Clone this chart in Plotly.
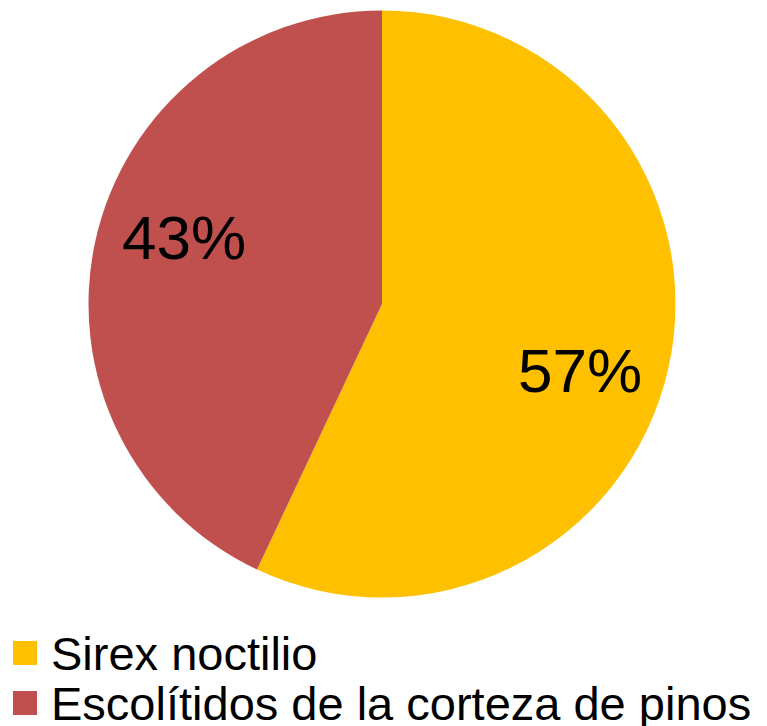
import math
import plotly.graph_objects as go

labels = ["Sirex noctilio", "Escolítidos de la corteza de pinos"]
values = [57, 43]
colors = ["#FFC000", "#C0504D"]

W, H = 767, 726
OFF = 7  # page offset compensation (px)
CX, CY, R = 381 - OFF, 303 - OFF, 293.5

fig = go.Figure(go.Pie(
    labels=labels,
    values=values,
    sort=False,
    direction="clockwise",
    rotation=0,
    marker=dict(colors=colors, line=dict(width=0)),
    textposition="none",
    domain=dict(x=[(CX - R) / W, (CX + R) / W], y=[1 - (CY + R) / H, 1 - (CY - R) / H]),
    hoverinfo="label+percent",
    showlegend=False,
))

total = sum(values)
start = 0.0
annotations = []
for v in values:
    frac = v / total
    mid = (start + frac / 2) * 360 + 6
    start += frac
    rr = 0.71 * R
    x = CX + rr * math.sin(math.radians(mid))
    y = CY - rr * math.cos(math.radians(mid))
    annotations.append(dict(
        x=x / W, y=1 - y / H, xref="paper", yref="paper",
        text=f"{round(frac * 100)}%", showarrow=False,
        xanchor="center", yanchor="middle",
        font=dict(family="Liberation Sans, Arial", size=62, color="black"),
    ))

shapes = []
for i, (lab, col) in enumerate(zip(labels, colors)):
    yc = 652 + 50 * i - OFF
    x0 = 12 - OFF
    shapes.append(dict(
        type="rect", xref="paper", yref="paper",
        x0=x0 / W, x1=(x0 + 24) / W,
        y0=1 - (yc + 12) / H, y1=1 - (yc - 12) / H,
        fillcolor=col, line=dict(width=0),
    ))
    annotations.append(dict(
        x=(48 - OFF) / W, y=1 - yc / H, xref="paper", yref="paper",
        text=lab, showarrow=False, xanchor="left", yanchor="middle",
        font=dict(family="Liberation Sans, Arial", size=47, color="black"),
    ))

fig.update_layout(
    width=W, height=H,
    margin=dict(l=0, r=0, t=0, b=0),
    paper_bgcolor="white",
    showlegend=False,
    annotations=annotations,
    shapes=shapes,
)
fig.write_html("out.html")
